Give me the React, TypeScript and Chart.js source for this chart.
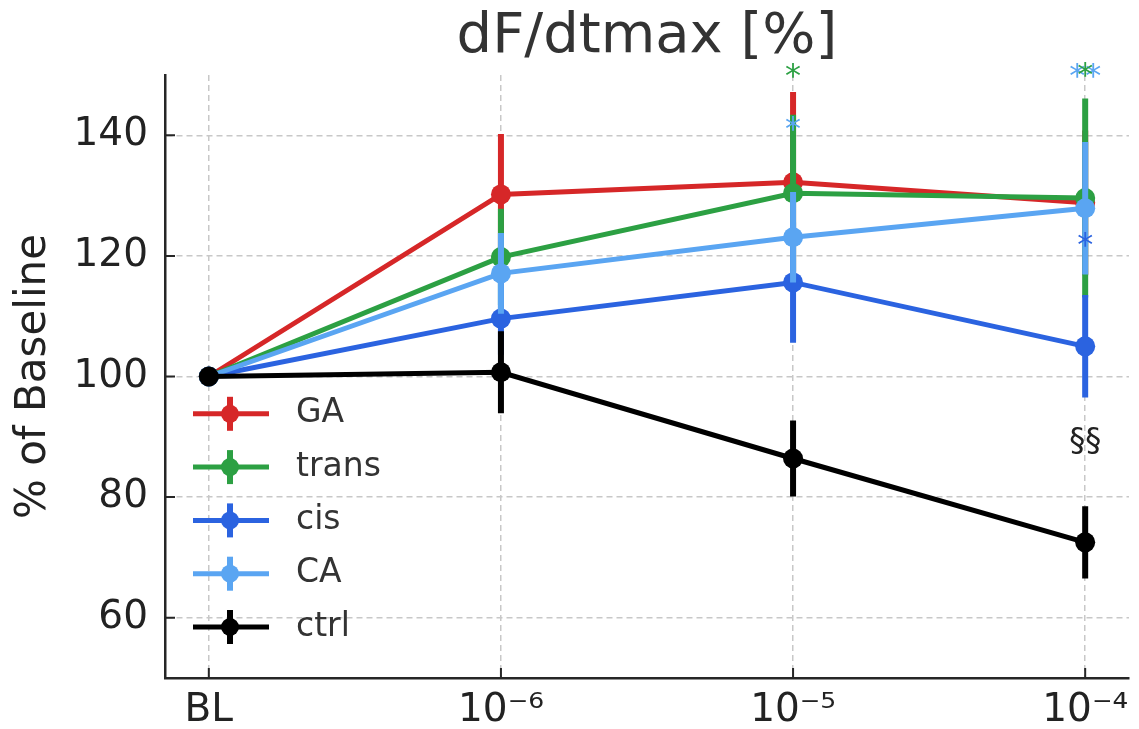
import React, { useEffect, useRef } from "react";
import { Chart, registerables } from "chart.js";

Chart.register(...registerables);

// ---- data ----
const doseLabels = ["BL", "10⁻⁶", "10⁻⁵", "10⁻⁴"];
const seriesNames = ["GA", "trans", "cis", "CA", "ctrl"];
const GA = [100, 130.2, 132.2, 128.8];
const GAerr = [0, 10, 15, 12];
const trans = [100, 119.8, 130.4, 129.6];
const transErr = [0, 8, 13, 16.5];
const cis = [100, 109.6, 115.6, 105.0];
const cisErr = [0, 6, 10, 8.5];
const CA = [100, 117.1, 123.1, 127.9];
const CAerr = [0, 6.7, 7.5, 11];
const ctrl = [100, 100.7, 86.4, 72.5];
const ctrlErr = [0, 6.8, 6.3, 6.0];
const yTicks = [60, 80, 100, 120, 140];

// significance marks: text, x index, y value, colour
const markText = ["*", "*", "**", "*", "*", "§§"];
const markX = [2, 2, 3, 3, 3, 3];
const markY = [150.3, 141.5, 150.3, 150.5, 122.3, 89.4];
const markColor = ["#2ca043", "#5aa5f2", "#5aa5f2", "#2ca043", "#2b63e0", "#222222"];

const colors = ["#d62728", "#2ca043", "#2b63e0", "#5aa5f2", "#000000"];
const seriesValues = [GA, trans, cis, CA, ctrl];
const seriesErrs = [GAerr, transErr, cisErr, CAerr, ctrlErr];

const FONT = "DejaVu Sans";

const errorBarPlugin = {
  id: "errorBars",
  beforeDatasetDraw(chart: any, args: any) {
    const i = args.index;
    const vals = seriesValues[i];
    const errs = seriesErrs[i];
    const xs = chart.scales.x;
    const ys = chart.scales.y;
    const ctx = chart.ctx;
    ctx.save();
    ctx.strokeStyle = colors[i];
    ctx.lineWidth = 6;
    ctx.lineCap = "butt";
    ctx.beginPath();
    vals.forEach((v: number, j: number) => {
      if (!errs[j]) return;
      const px = xs.getPixelForValue(j);
      ctx.moveTo(px, ys.getPixelForValue(v + errs[j]));
      ctx.lineTo(px, ys.getPixelForValue(v - errs[j]));
    });
    ctx.stroke();
    ctx.restore();
  },
};

const decorPlugin = {
  id: "decor",
  afterDatasetsDraw(chart: any) {
    const { ctx, chartArea } = chart;
    const xs = chart.scales.x;
    const ys = chart.scales.y;
    ctx.save();
    // inward tick marks
    ctx.strokeStyle = "#262626";
    ctx.lineWidth = 2;
    ctx.beginPath();
    yTicks.forEach((v) => {
      const py = ys.getPixelForValue(v);
      ctx.moveTo(chartArea.left, py);
      ctx.lineTo(chartArea.left + 10, py);
    });
    doseLabels.forEach((_, j) => {
      const px = xs.getPixelForValue(j);
      ctx.moveTo(px, chartArea.bottom);
      ctx.lineTo(px, chartArea.bottom - 10);
    });
    ctx.stroke();
    // significance marks
    ctx.textAlign = "center";
    ctx.textBaseline = "alphabetic";
    markText.forEach((t, k) => {
      const size = 32;
      ctx.font = `${size}px ${FONT}`;
      ctx.fillStyle = markColor[k];
      const px = xs.getPixelForValue(markX[k]);
      const py = ys.getPixelForValue(markY[k]);
      const off = t === "§§" ? 0.31 * size : 0.4 * size;
      ctx.fillText(t, px, py + off);
    });
    // legend
    const n = seriesNames.length;
    seriesNames.forEach((name, i) => {
      const y = chartArea.bottom - 51 - (n - 1 - i) * 53.3;
      const x0 = chartArea.left + 28;
      const x1 = chartArea.left + 104;
      const xm = chartArea.left + 65;
      ctx.strokeStyle = colors[i];
      ctx.fillStyle = colors[i];
      ctx.lineWidth = 5;
      ctx.beginPath();
      ctx.moveTo(x0, y);
      ctx.lineTo(x1, y);
      ctx.stroke();
      ctx.lineWidth = 6;
      ctx.beginPath();
      ctx.moveTo(xm, y - 17);
      ctx.lineTo(xm, y + 17);
      ctx.stroke();
      ctx.beginPath();
      ctx.arc(xm, y, 9, 0, Math.PI * 2);
      ctx.fill();
      ctx.fillStyle = "#333333";
      ctx.font = `33px ${FONT}`;
      ctx.textAlign = "left";
      ctx.textBaseline = "middle";
      ctx.fillText(name, chartArea.left + 131, y);
    });
    ctx.restore();
  },
};

export default function App() {
  const ref = useRef<HTMLCanvasElement | null>(null);
  useEffect(() => {
    if (!ref.current) return;
    const datasets = seriesNames.map((name, i) => ({
      label: name,
      data: seriesValues[i].map((y, j) => ({ x: j, y })),
      borderColor: colors[i],
      backgroundColor: colors[i],
      pointBackgroundColor: colors[i],
      pointBorderWidth: 0,
      pointRadius: 10,
      pointHoverRadius: 10,
      borderWidth: 5,
      tension: 0,
      order: seriesNames.length - i,
    }));
    const chart = new Chart(ref.current, {
      type: "line",
      data: { datasets },
      plugins: [errorBarPlugin, decorPlugin],
      options: {
        responsive: false,
        animation: false,
        devicePixelRatio: 1,
        layout: { padding: { top: 0, left: 0, right: 7, bottom: 0 } },
        plugins: {
          legend: { display: false },
          tooltip: { enabled: false },
          title: {
            display: true,
            text: "dF/dtmax [%]",
            fullSize: false,
            color: "#333333",
            font: { family: FONT, size: 56, weight: "normal" },
            padding: { top: 4, bottom: 3.8 },
          },
        },
        scales: {
          x: {
            type: "linear",
            min: -0.15,
            max: 3.15,
            afterBuildTicks: (s: any) => {
              s.ticks = doseLabels.map((_, j) => ({ value: j }));
            },
            afterFit: (s: any) => {
              s.height = 51;
            },
            grid: { color: "#c8c8c8", lineWidth: 1.5, drawTicks: false },
            border: { display: true, color: "#262626", width: 2.5, dash: [6, 4] },
            ticks: {
              color: "#222222",
              font: { family: FONT, size: 39 },
              padding: 9,
              maxRotation: 0,
              callback: (v: any) => doseLabels[Math.round(Number(v))] ?? "",
            },
          },
          y: {
            type: "linear",
            min: 50,
            max: 150,
            afterBuildTicks: (s: any) => {
              s.ticks = yTicks.map((v) => ({ value: v }));
            },
            afterFit: (s: any) => {
              s.width = 165;
            },
            grid: { color: "#c8c8c8", lineWidth: 1.5, drawTicks: false },
            border: { display: true, color: "#262626", width: 2.5, dash: [6, 4] },
            ticks: {
              color: "#222222",
              font: { family: FONT, size: 39 },
              padding: 17,
            },
            title: {
              display: true,
              text: "% of Baseline",
              color: "#222222",
              font: { family: FONT, size: 42 },
              padding: { top: 9, bottom: 0 },
            },
          },
        },
      },
    } as any);
    return () => chart.destroy();
  }, []);
  return (
    <div style={{ position: "fixed", left: 0, top: 0, width: 1139, height: 729, background: "#fff" }}>
      <canvas ref={ref} width={1139} height={729} />
    </div>
  );
}
